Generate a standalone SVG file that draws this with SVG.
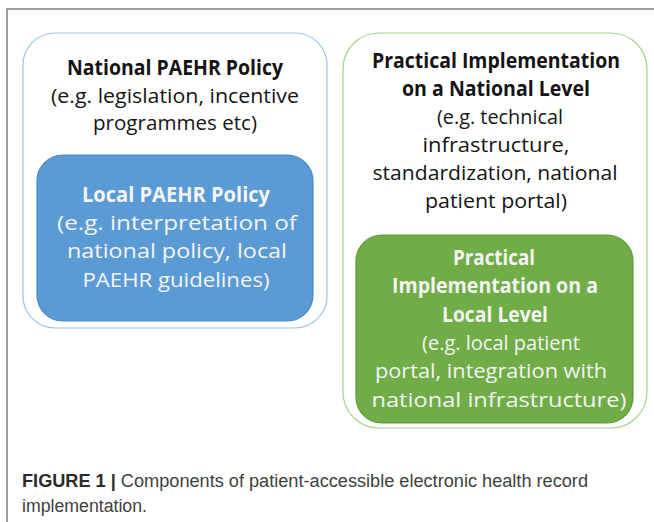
<svg xmlns="http://www.w3.org/2000/svg" width="654" height="522" viewBox="0 0 654 522">
  <style>
    .frame { fill: #ffffff; stroke: #7f7f7f; stroke-width: 1.5; }
    .outer-blue { fill: #ffffff; stroke: #9dc3e6; stroke-width: 1.2; }
    .outer-green { fill: #ffffff; stroke: #a9d18e; stroke-width: 1.2; }
    .inner-blue { fill: #5b9bd5; stroke: #4a86c0; stroke-width: 1.2; }
    .inner-green { fill: #70ad47; stroke: #5e9a38; stroke-width: 1.2; }
    text { font-family: "Open Sans", "Noto Sans", sans-serif; font-size: 20.5px; text-anchor: middle; }
    .dark { fill: #141414; }
    .light { fill: #f4f4f4; }
    .b { font-weight: 700; }
    .cap { font-family: "Liberation Sans", Arial, sans-serif; font-size: 18px; text-anchor: start; fill: #404040; }
    .capb { font-weight: 700; fill: #2a2a2a; }
  </style>

  <!-- figure frame (open to the right and bottom) -->
  <rect class="frame" x="7" y="9" width="700" height="600"/>

  <!-- national / local policy -->
  <g id="national-policy">
    <rect class="outer-blue" x="23" y="33" width="304" height="295" rx="32" ry="32"/>
    <text class="dark b" x="175" y="75" textLength="216" lengthAdjust="spacingAndGlyphs">National PAEHR Policy</text>
    <text class="dark" x="175" y="103" textLength="248" lengthAdjust="spacingAndGlyphs">(e.g. legislation, incentive</text>
    <text class="dark" x="175" y="130" textLength="164" lengthAdjust="spacingAndGlyphs">programmes etc)</text>
  </g>
  <g id="local-policy">
    <rect class="inner-blue" x="37" y="155" width="276" height="166" rx="26" ry="26"/>
    <text class="light b" x="176" y="202" textLength="188" lengthAdjust="spacingAndGlyphs">Local PAEHR Policy</text>
    <text class="light" x="177" y="230" textLength="240" lengthAdjust="spacingAndGlyphs">(e.g. interpretation of</text>
    <text class="light" x="177" y="258" textLength="220" lengthAdjust="spacingAndGlyphs">national policy, local</text>
    <text class="light" x="176" y="287" textLength="187" lengthAdjust="spacingAndGlyphs">PAEHR guidelines)</text>
  </g>

  <!-- national / local practical implementation -->
  <g id="national-implementation">
    <rect class="outer-green" x="343" y="33" width="304" height="395" rx="36" ry="36"/>
    <text class="dark b" x="496" y="68" textLength="248" lengthAdjust="spacingAndGlyphs">Practical Implementation</text>
    <text class="dark b" x="496" y="96" textLength="188" lengthAdjust="spacingAndGlyphs">on a National Level</text>
    <text class="dark" x="500" y="124" textLength="126" lengthAdjust="spacingAndGlyphs">(e.g. technical</text>
    <text class="dark" x="496" y="152" textLength="147" lengthAdjust="spacingAndGlyphs">infrastructure,</text>
    <text class="dark" x="495" y="180" textLength="245" lengthAdjust="spacingAndGlyphs">standardization, national</text>
    <text class="dark" x="496" y="208" textLength="142" lengthAdjust="spacingAndGlyphs">patient portal)</text>
  </g>
  <g id="local-implementation">
    <rect class="inner-green" x="356" y="235" width="277" height="188" rx="26" ry="26"/>
    <text class="light b" x="494" y="265" textLength="82" lengthAdjust="spacingAndGlyphs">Practical</text>
    <text class="light b" x="495" y="293" textLength="206" lengthAdjust="spacingAndGlyphs">Implementation on a</text>
    <text class="light b" x="495" y="322" textLength="106" lengthAdjust="spacingAndGlyphs">Local Level</text>
    <text class="light" x="501" y="350" textLength="158" lengthAdjust="spacingAndGlyphs">(e.g. local patient</text>
    <text class="light" x="491" y="378" textLength="232" lengthAdjust="spacingAndGlyphs">portal, integration with</text>
    <text class="light" x="499" y="407" textLength="255" lengthAdjust="spacingAndGlyphs">national infrastructure)</text>
  </g>

  <!-- connectors: none drawn -->
  <g id="connectors"></g>

  <!-- caption -->
  <g id="caption">
    <text class="cap" x="22" y="487" textLength="566" lengthAdjust="spacingAndGlyphs"><tspan class="capb">FIGURE 1 |</tspan> Components of patient-accessible electronic health record</text>
    <text class="cap" x="22" y="512" textLength="125" lengthAdjust="spacingAndGlyphs">implementation.</text>
  </g>
</svg>
